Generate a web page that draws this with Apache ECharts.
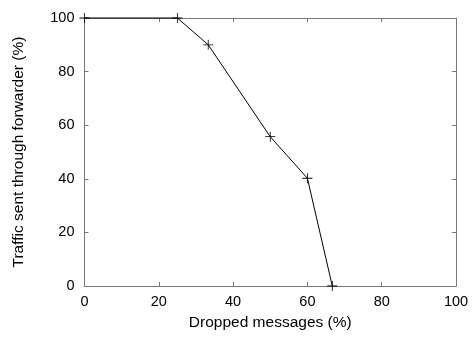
<!DOCTYPE html>
<html>
<head>
<meta charset="utf-8">
<script src="https://cdn.jsdelivr.net/npm/echarts@6/dist/echarts.min.js"></script>
<style>
  html, body { margin: 0; padding: 0; background: #fff; }
  #chart { width: 472px; height: 337px; }
</style>
</head>
<body>
<div id="chart"></div>
<script>
// Share of traffic routed through the forwarder vs. dropped messages
const droppedPct = [0, 25, 33.3, 50, 60, 66.7];
const forwardedPct = [100, 100, 90, 55.7, 40.2, 0];
const xTicks = [0, 20, 40, 60, 80, 100];
const yTicks = [0, 20, 40, 60, 80, 100];

const FONT = 'Liberation Sans, Arial, Helvetica, sans-serif';
const AXIS_COLOR = '#777';

const points = droppedPct.map((x, i) => [x, forwardedPct[i]]);

function boxAxis(extra) {
  return Object.assign({
    type: 'value',
    min: 0,
    max: 100,
    interval: 20,
    axisLine: { show: true, onZero: false, lineStyle: { color: AXIS_COLOR, width: 1 } },
    axisTick: { show: true, inside: true, length: 4, lineStyle: { color: AXIS_COLOR } },
    splitLine: { show: false },
    axisLabel: { show: false }
  }, extra);
}

const tickStyle = { color: '#000', fontFamily: FONT, fontSize: 14.5 };

const chart = echarts.init(document.getElementById('chart'), null, { renderer: 'canvas' });
chart.setOption({
  animation: false,
  backgroundColor: '#fff',
  grid: { left: 84.5, right: 16, top: 18, bottom: 51, containLabel: false },
  xAxis: [
    boxAxis({
      position: 'bottom',
      name: 'Dropped messages (%)',
      nameLocation: 'middle',
      nameGap: 29,
      nameTextStyle: { color: '#000', fontFamily: FONT, fontSize: 15.5 },
      axisLabel: Object.assign({ show: true, margin: 8,
        formatter: v => xTicks.includes(v) ? String(v) : '' }, tickStyle)
    }),
    boxAxis({ position: 'top' })
  ],
  yAxis: [
    boxAxis({
      position: 'left',
      name: 'Traffic sent through forwarder (%)',
      nameLocation: 'middle',
      nameGap: 58,
      nameTextStyle: { color: '#000', fontFamily: FONT, fontSize: 15.5 },
      axisLabel: Object.assign({ show: true, margin: 10,
        formatter: v => yTicks.includes(v) ? String(v) : '' }, tickStyle)
    }),
    boxAxis({ position: 'right' })
  ],
  series: [{
    type: 'line',
    data: points,
    clip: false,
    symbol: 'path://M-0.08,-1H0.08V1H-0.08Z M-1,-0.08H1V0.08H-1Z',
    symbolSize: 10,
    itemStyle: { color: '#000' },
    lineStyle: { color: '#000', width: 1 }
  }]
});
</script>
</body>
</html>
